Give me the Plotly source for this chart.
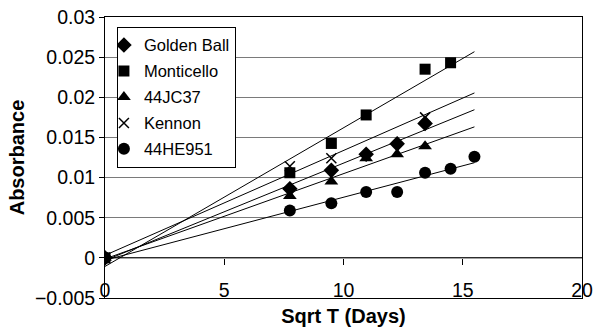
import numpy as np
import plotly.graph_objects as go

# Square root of elapsed time (days) for each sampling point
x_golden = [0, 7.75, 9.49, 10.95, 12.25, 13.42]
y_golden = [0, 0.0086, 0.0109, 0.0129, 0.0142, 0.01675]

x_monti = [0, 7.75, 9.49, 10.95, 13.42, 14.49]
y_monti = [0, 0.0106, 0.01425, 0.0178, 0.0235, 0.0243]

x_jc37 = [0, 7.75, 9.49, 10.95, 12.25, 13.42]
y_jc37 = [0, 0.0077, 0.0095, 0.0124, 0.0129, 0.0139]

x_kennon = [0, 7.75, 9.49, 13.42]
y_kennon = [0, 0.0114, 0.0124, 0.0175]

x_he951 = [0, 7.75, 9.49, 10.95, 12.25, 13.42, 14.49, 15.49]
y_he951 = [0, 0.0059, 0.0068, 0.0082, 0.0082, 0.0106, 0.0111, 0.0126]

# (name, x, y, symbol, size, legend rank)
series = [
    ("Golden Ball", x_golden, y_golden, "diamond", 12, 1),
    ("44JC37", x_jc37, y_jc37, "triangle-up", 12, 3),
    ("Kennon", x_kennon, y_kennon, "x-thin", 10, 4),
    ("44HE951", x_he951, y_he951, "circle", 12, 5),
    ("Monticello", x_monti, y_monti, "square", 11, 2),
]

FONT = "Arial, 'Liberation Sans', sans-serif"
TICK_FONT = dict(family=FONT, size=19.5, color="black")
TITLE_FONT = dict(family=FONT, size=20, color="black")
x_end = max(max(s[1]) for s in series)

fig = go.Figure()

# Linear trend lines (least squares) spanning the sampled range
for name, xs, ys, sym, size, rank in series:
    slope, icpt = np.polyfit(xs, ys, 1)
    xl = np.array([0.0, x_end])
    fig.add_trace(go.Scatter(
        x=xl, y=slope * xl + icpt, mode="lines",
        line=dict(color="black", width=1), showlegend=False, hoverinfo="skip",
    ))

for name, xs, ys, sym, size, rank in series:
    marker = dict(symbol=sym, size=size, color="black")
    if sym == "x-thin":
        marker["line"] = dict(color="black", width=1.5)
    fig.add_trace(go.Scatter(
        x=xs, y=ys, mode="markers", name=name, marker=marker,
        legendgroup=name, legendrank=rank,
    ))

# Horizontal axis line drawn at zero with downward ticks
fig.add_trace(go.Scatter(x=[0, 20], y=[0, 0], xaxis="x2", mode="lines",
                         line=dict(color="black", width=1),
                         showlegend=False, hoverinfo="skip"))
# Carrier for the x tick labels, sitting just above the lower frame
fig.add_trace(go.Scatter(x=[0, 20], y=[0, 0], xaxis="x3", mode="lines",
                         line=dict(width=0), showlegend=False,
                         hoverinfo="skip"))

fig.update_layout(
    width=594, height=327,
    margin=dict(l=105, r=12, t=17, b=29, autoexpand=False),
    paper_bgcolor="white", plot_bgcolor="white",
    font=dict(family=FONT, size=16.5, color="black"),
    showlegend=True,
    legend=dict(
        x=0.025, y=0.965, xanchor="left", yanchor="top",
        bgcolor="white", bordercolor="black", borderwidth=1,
        font=dict(family=FONT, size=16.5, color="black"),
        traceorder="grouped", tracegroupgap=1.5, indentation=-14,
    ),
    xaxis=dict(
        range=[0, 20], dtick=5, tick0=0,
        showgrid=False, zeroline=False, automargin=False,
        showline=True, linecolor="black", linewidth=1, mirror=True,
        ticks="", showticklabels=False,
        title=dict(text="<b>Sqrt T (Days)</b>", standoff=15, font=TITLE_FONT),
    ),
    xaxis2=dict(
        range=[0, 20], dtick=5, tick0=0, overlaying="x",
        anchor="free", position=1 / 7, side="bottom", automargin=False,
        showgrid=False, zeroline=False, showline=False,
        ticks="outside", ticklen=6, tickcolor="black", tickwidth=1,
        showticklabels=False,
    ),
    xaxis3=dict(
        range=[0, 20], dtick=5, tick0=0, overlaying="x",
        anchor="free", position=0.075, side="bottom", automargin=False,
        showgrid=False, zeroline=False, showline=False,
        ticks="", showticklabels=True, tickfont=TICK_FONT,
    ),
    yaxis=dict(
        range=[-0.005, 0.03], dtick=0.005, tick0=0,
        showgrid=True, gridcolor="#7a7a7a", gridwidth=1,
        zeroline=False, automargin=False,
        showline=True, linecolor="black", linewidth=1, mirror=True,
        ticks="outside", ticklen=5, tickcolor="black",
        tickformat="~g", tickfont=TICK_FONT,
        title=dict(text="<b>Absorbance</b>", standoff=4, font=TITLE_FONT),
    ),
)

fig.write_html("out.html")
